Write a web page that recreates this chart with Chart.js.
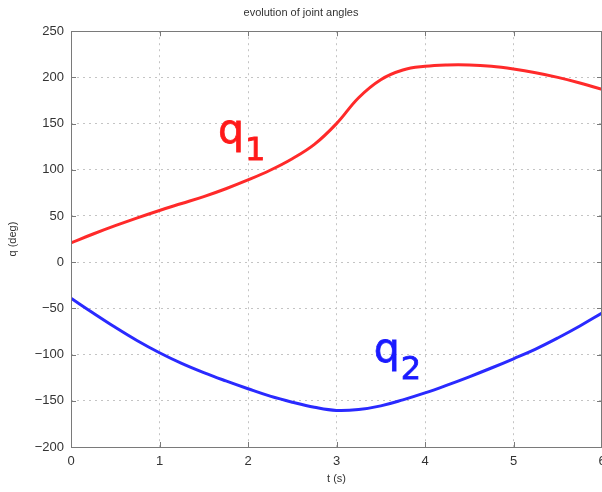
<!DOCTYPE html>
<html>
<head>
<meta charset="utf-8">
<script src="https://cdn.jsdelivr.net/npm/chart.js@4"></script>
<style>
html,body{margin:0;padding:0;background:#fff;overflow:hidden;}
#wrap{width:602px;height:492px;position:relative;}
</style>
</head>
<body>
<div id="wrap"><canvas id="c" width="602" height="492"></canvas></div>
<script>
const tValues = [0,0.25,0.5,0.75,1,1.25,1.5,1.75,2,2.25,2.5,2.75,3,3.25,3.5,3.75,4,4.25,4.5,4.75,5,5.25,5.5,5.75,6];
const q1Values = [21,30.5,39.5,48,56,63.5,71,79.5,89,99.5,112,127.5,150,178,197.5,208,212,213.5,213.5,212,209,205,200,194,187];
const q2Values = [-39,-55,-70.5,-85,-98,-109.5,-119.5,-128.5,-137,-145,-151.5,-157,-160.5,-159.5,-155.5,-149,-141.5,-133,-124,-114.5,-104.5,-94,-82,-69,-55];
const xTickValues = [0,1,2,3,4,5,6];
const yTickValues = [-200,-150,-100,-50,0,50,100,150,200,250];
const seriesLabels = [
  {main:'q', sub:'1', t:1.66, v:129, color:'#ff1a1a'},
  {main:'q', sub:'2', t:3.42, v:-108, color:'#1a1aff'}
];

const toPts = (ys) => tValues.map((t,i)=>({x:t,y:ys[i]}));

const framePlugin = {
  id:'frame',
  afterDraw(chart){
    const {ctx, chartArea:a, scales:{x,y}} = chart;
    ctx.save();
    ctx.strokeStyle = '#7a7a7a';
    ctx.lineWidth = 1;
    ctx.strokeRect(Math.round(a.left)+0.5, Math.round(a.top)+0.5, Math.round(a.right-a.left)-1, Math.round(a.bottom-a.top));
    ctx.beginPath();
    xTickValues.forEach(v=>{
      const px = Math.round(x.getPixelForValue(v))+0.5;
      ctx.moveTo(px,a.bottom); ctx.lineTo(px,a.bottom-5);
      ctx.moveTo(px,a.top); ctx.lineTo(px,a.top+5);
    });
    yTickValues.forEach(v=>{
      const py = Math.round(y.getPixelForValue(v))+0.5;
      ctx.moveTo(a.left,py); ctx.lineTo(a.left+5,py);
      ctx.moveTo(a.right,py); ctx.lineTo(a.right-5,py);
    });
    ctx.stroke();
    seriesLabels.forEach(l=>{
      const px = x.getPixelForValue(l.t);
      const py = y.getPixelForValue(l.v);
      ctx.fillStyle = l.color;
      ctx.strokeStyle = l.color;
      ctx.lineWidth = 0.8;
      ctx.textBaseline = 'alphabetic';
      ctx.textAlign = 'left';
      ctx.font = '41px "DejaVu Sans"';
      ctx.fillText(l.main, px, py);
      ctx.strokeText(l.main, px, py);
      const w = ctx.measureText(l.main).width;
      ctx.font = '32px "DejaVu Sans"';
      ctx.fillText(l.sub, px + w + 1, py + 17);
      ctx.strokeText(l.sub, px + w + 1, py + 17);
    });
    ctx.restore();
  }
};

const tickFont = {family:'"Liberation Sans", Arial, sans-serif', size:13};
const fmt = v => (v < 0 ? '\u2212' + Math.abs(v) : String(v));

new Chart(document.getElementById('c'), {
  type:'line',
  data:{
    datasets:[
      {label:'q1', data:toPts(q1Values), borderColor:'#ff2a2a', borderWidth:3, pointRadius:0, tension:0.4, fill:false},
      {label:'q2', data:toPts(q2Values), borderColor:'#2a2aff', borderWidth:3, pointRadius:0, tension:0.4, fill:false}
    ]
  },
  options:{
    responsive:false,
    animation:false,
    layout:{padding:{left:0,right:0,top:0,bottom:0}},
    plugins:{
      legend:{display:false},
      tooltip:{enabled:false},
      title:{display:true, text:'evolution of joint angles', color:'#333', font:{family:'"Liberation Sans", Arial, sans-serif', size:11, weight:'normal'}, padding:{top:6,bottom:12}}
    },
    scales:{
      x:{
        type:'linear', min:0, max:6,
        afterBuildTicks(s){ s.ticks = xTickValues.map(v=>({value:v})); },
        afterFit(s){ s.height = 45; s.paddingRight = 0; s.paddingLeft = 0; },
        grid:{color:'#c4c4c4', lineWidth:1, drawTicks:false},
        border:{display:false, dash:[2,4]},
        ticks:{color:'#333', padding:7, maxRotation:0, font:tickFont, callback:fmt},
        title:{display:true, text:'t (s)', color:'#333', font:{family:'"Liberation Sans", Arial, sans-serif', size:11}, padding:{top:0,bottom:6}}
      },
      y:{
        type:'linear', min:-200, max:250,
        afterBuildTicks(s){ s.ticks = yTickValues.map(v=>({value:v})); },
        afterFit(s){ s.width = 71; },
        grid:{color:'#c4c4c4', lineWidth:1, drawTicks:false},
        border:{display:false, dash:[2,4]},
        ticks:{color:'#333', padding:7, font:tickFont, callback:fmt},
        title:{display:true, text:'q (deg)', color:'#333', font:{family:'"Liberation Sans", Arial, sans-serif', size:11}, padding:{top:6,bottom:0}}
      }
    }
  },
  plugins:[framePlugin]
});
</script>
</body>
</html>
